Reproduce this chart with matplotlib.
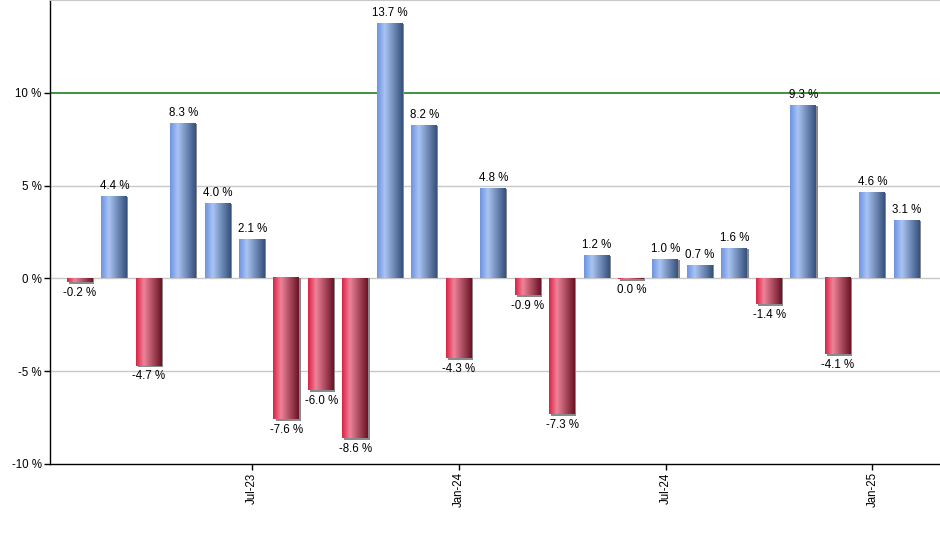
import matplotlib
matplotlib.use("Agg")
import matplotlib.pyplot as plt
import numpy as np
from matplotlib.colors import LinearSegmentedColormap

plt.rcParams['font.family'] = ['Liberation Sans', 'DejaVu Sans']

# monthly returns, Feb-23 .. Feb-25
meses = ["Feb-23", "Mar-23", "Apr-23", "May-23", "Jun-23", "Jul-23", "Aug-23",
         "Sep-23", "Oct-23", "Nov-23", "Dec-23", "Jan-24", "Feb-24", "Mar-24",
         "Apr-24", "May-24", "Jun-24", "Jul-24", "Aug-24", "Sep-24", "Oct-24",
         "Nov-24", "Dec-24", "Jan-25", "Feb-25"]
valores = [-0.2, 4.4, -4.7, 8.3, 4.0, 2.1, -7.6, -6.0, -8.6, 13.7, 8.2, -4.3,
           4.8, -0.9, -7.3, 1.2, -0.05, 1.0, 0.7, 1.6, -1.4, 9.3, -4.1, 4.6, 3.1]
etiquetas = ["-0.2 %", "4.4 %", "-4.7 %", "8.3 %", "4.0 %", "2.1 %", "-7.6 %",
             "-6.0 %", "-8.6 %", "13.7 %", "8.2 %", "-4.3 %", "4.8 %", "-0.9 %",
             "-7.3 %", "1.2 %", "0.0 %", "1.0 %", "0.7 %", "1.6 %", "-1.4 %",
             "9.3 %", "-4.1 %", "4.6 %", "3.1 %"]
meses_tick = ["Jul-23", "Jan-24", "Jul-24", "Jan-25"]

azul = LinearSegmentedColormap.from_list(
    "azul", [(0.0, "#6d94e3"), (0.3, "#aac4f3"), (1.0, "#37517d")])
rojo = LinearSegmentedColormap.from_list(
    "rojo", [(0.0, "#dc2146"), (0.3, "#ee8499"), (1.0, "#6a1325")])
grad = np.linspace(0, 1, 64).reshape(1, -1)

fig = plt.figure(figsize=(9.4, 5.5), dpi=100)
ax = fig.add_axes([50/940, 86/550, 890/940, 464/550])

ancho = 0.73
x = np.arange(len(valores))
for xi, v, txt in zip(x, valores, etiquetas):
    x0, x1 = xi - ancho/2 - 0.02, xi + ancho/2 - 0.02
    # sombra
    ax.bar(xi + 0.04, v - (0.1 if v < 0 else 0), width=ancho, color="#8a8a8a",
           zorder=2, linewidth=0)
    cmap = azul if v >= 0 else rojo
    ax.imshow(grad, cmap=cmap, extent=(x0, x1, 0, v), aspect="auto",
              interpolation="bicubic", zorder=3)
    if v >= 0:
        ax.annotate(txt, (xi, v), xytext=(0, 3.5), textcoords="offset points",
                    ha="center", va="bottom", fontsize=8.3, zorder=5)
    else:
        ax.annotate(txt, (xi, v), xytext=(0, -3.5), textcoords="offset points",
                    ha="center", va="top", fontsize=8.3, zorder=5)

ax.set_xlim(-0.87, 24.96)
ax.set_ylim(-10, 15)

for yv in [-5, 0, 5]:
    ax.axhline(yv, color="#c8c8c8", lw=1, zorder=1)
ax.axhline(10, color="#0b740b", lw=1.1, zorder=1)

ax.set_yticks([-10, -5, 0, 5, 10])
ax.set_yticklabels(["-10 %", "-5 %", "0 %", "5 %", "10 %"], fontsize=8.3)
ax.set_xticks([meses.index(m) for m in meses_tick])
ax.set_xticklabels(meses_tick, rotation=90, fontsize=8.3)
ax.tick_params(axis="both", length=4, width=1, color="black", pad=2)

ax.spines["right"].set_visible(False)
ax.spines["top"].set_color("#c8c8c8")
ax.spines["left"].set_linewidth(1)
ax.spines["bottom"].set_linewidth(1)

plt.savefig("out.png", dpi=100)
